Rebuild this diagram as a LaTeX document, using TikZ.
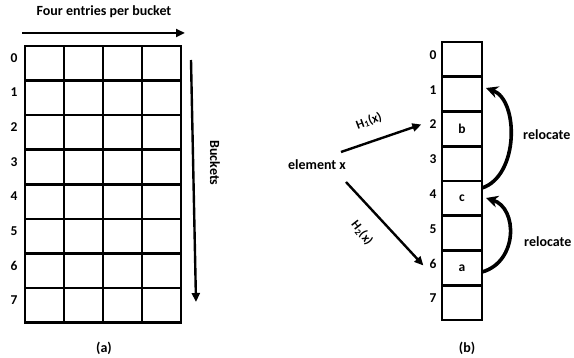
\documentclass[tikz,border=0pt]{standalone}
\usepackage{fontspec}
\setmainfont{Carlito}
\usetikzlibrary{arrows.meta}
\begin{document}
\begin{tikzpicture}[x=1pt,y=-1pt,
  lbl/.style={font=\bfseries\fontsize{14}{16}\selectfont, inner sep=0pt},
  num/.style={font=\bfseries\fontsize{13.5}{15}\selectfont, inner sep=0pt},
  cell/.style={draw, line width=2.6pt, minimum width=39pt, minimum height=34.6pt, inner sep=0pt, outer sep=0pt},
  rcell/.style={draw, line width=2.6pt, minimum width=40pt, minimum height=34.75pt, inner sep=0pt, outer sep=0pt, font=\bfseries\fontsize{13.5}{15}\selectfont},
  hlbl/.style={font=\bfseries\fontsize{12.5}{14}\selectfont, inner sep=0pt},
  arr/.style={line width=2.4pt, -{Triangle[length=9pt,width=8pt]}},
  rel/.style={line width=3.6pt, -{Stealth[length=12pt,width=12pt]}}]
\useasboundingbox (0,0) rectangle (574,358);
% title
\node[lbl] (title) at (104,12) {Four entries per bucket};
\coordinate (ta) at (22,33);
\coordinate (tb) at (185,33);
\draw[arr] (ta) -- (tb);
% left grid
\foreach \r in {0,...,7}{
  \foreach \c in {0,...,3}{
    \node[cell] (g-\r-\c) at ({44.5+39*\c},{63.3+34.6*\r}) {};
  }
  \node[num] (ln-\r) at (14,{58+34.6*\r}) {\r};
}
% buckets arrow
\coordinate (ba) at (191,60);
\coordinate (bb) at (196,302);
\draw[arr] (ba) -- (bb);
\node[lbl, rotate=-90] (buck) at (215,163) {Buckets};
\node[lbl] (capa) at (104,348) {(a)};
% right array
\foreach \r/\t in {0/,1/,2/b,3/,4/c,5/,6/a,7/}{
  \node[rcell] (r-\r) at (462,{59.4+34.75*\r}) {\t};
  \node[num] (rn-\r) at (433,{55+34.75*\r}) {\r};
}
\node[lbl] (elem) at (317,165) {element x};
\coordinate (h1s) at (341,152);
\coordinate (h2s) at (346,182);
\draw[arr] (h1s) -- ([xshift=-8pt,yshift=0pt]rn-2.west);
\draw[arr] (h2s) -- ([xshift=-6pt,yshift=-2pt]rn-6.west);
\node[hlbl, rotate=20.5] (h1) at (369,121) {H\textsubscript{1}(x)};
\node[hlbl, rotate=-52] (h2) at (362,233) {H\textsubscript{2}(x)};
% relocate arrows
\coordinate (u0) at (482,188);
\coordinate (u1) at (486,88);
\coordinate (l0) at (482,272);
\coordinate (l1) at (486,198);
\draw[rel] (u0) .. controls (519,176) and (519,100) .. (u1);
\draw[rel] (l0) .. controls (518,262) and (518,208) .. (l1);
\node[lbl, anchor=west] (rl1) at (523,135) {relocate};
\node[lbl, anchor=west] (rl2) at (524,242) {relocate};
\node[lbl] (capb) at (467,348) {(b)};
\end{tikzpicture}
\end{document}
